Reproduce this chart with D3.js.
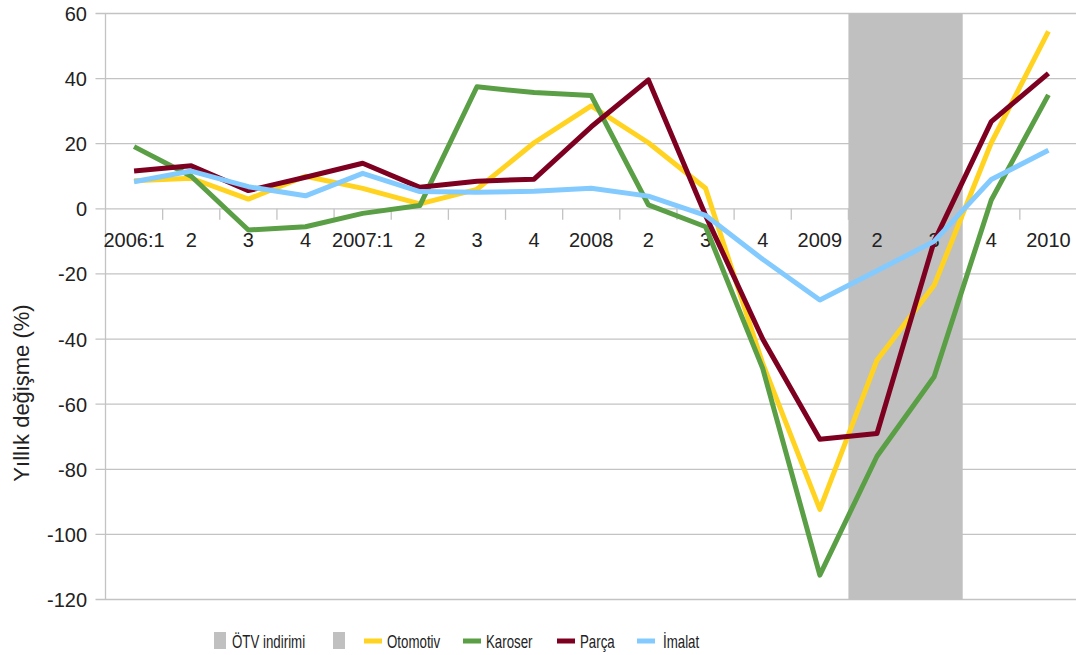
<!DOCTYPE html>
<html lang="tr">
<head>
<meta charset="utf-8">
<title>Yıllık değişme</title>
<script src="https://cdn.jsdelivr.net/npm/d3@7"></script>
<style>
  body { margin: 0; background: #fff; }
  svg text { font-family: "Liberation Sans", Arial, sans-serif; fill: #222; }
  .grid line { stroke: #c3c3c3; stroke-width: 1.3; }
  .series { fill: none; stroke-width: 5; stroke-linejoin: round; }
  .legend text { font-size: 17.5px; }
</style>
</head>
<body>
<svg width="1076" height="655"></svg>
<script>
// data
var categories = ["2006:1", "2", "3", "4", "2007:1", "2", "3", "4", "2008", "2", "3", "4", "2009", "2", "3", "4", "2010"];
var otomotiv = [8.6, 9.4, 3, 10, 6.3, 1.5, 6, 20.3, 31.6, 20.3, 6.3, -47.5, -92.3, -46.5, -23.5, 20.3, 54.5];
var karoser  = [19.1, 10, -6.5, -5.5, -1.4, 1, 37.5, 35.7, 34.8, 1.2, -5.5, -49, -112.5, -76, -51.6, 2.7, 35];
var parca    = [11.6, 13.2, 5.6, 9.7, 14, 6.6, 8.5, 9.1, 25.2, 39.6, -2, -40, -70.8, -69, -10, 26.8, 41.6];
var imalat   = [8.3, 11.6, 6.8, 4, 10.9, 5.3, 5.1, 5.4, 6.3, 3.9, -2, -15.5, -28, -19, -10, 9, 18];
var yTicks = [60, 40, 20, 0, -20, -40, -60, -80, -100, -120];
var shadeFrom = 13, shadeTo = 14; // ÖTV indirimi: 2009:2 - 2009:3

var seriesNames = ["Otomotiv", "Karoser", "Parça", "İmalat"];
var seriesValues = [otomotiv, karoser, parca, imalat];
var seriesColors = ["#ffd320", "#5a9f45", "#7e0021", "#83caff"];
var shadeColor = "#c0c0c0";

var svg = d3.select("svg");
var pLeft = 105.5, pRight = 1077, pTop = 13.5, pBottom = 599.5;

var x = d3.scaleBand().domain(d3.range(categories.length)).range([pLeft, pRight]);
var y = d3.scaleLinear().domain([-120, 60]).range([pBottom, pTop]);
var cx = function(i) { return x(i) + x.bandwidth() / 2; };

// horizontal grid
svg.append("g").attr("class", "grid")
  .selectAll("line").data(yTicks).enter().append("line")
  .attr("x1", pLeft - 10).attr("x2", pRight)
  .attr("y1", function(d) { return y(d); }).attr("y2", function(d) { return y(d); });

// y axis
svg.append("line").attr("x1", pLeft).attr("x2", pLeft).attr("y1", pTop).attr("y2", pBottom)
  .attr("stroke", "#c3c3c3").attr("stroke-width", 1.3);
svg.append("g").selectAll("text").data(yTicks).enter().append("text")
  .attr("x", 87).attr("y", function(d) { return y(d) + 7.5; })
  .attr("text-anchor", "end").style("font-size", "20px")
  .text(function(d) { return d; });

svg.append("text")
  .attr("transform", "translate(28.5,393) rotate(-90)")
  .attr("text-anchor", "middle").style("font-size", "22px")
  .text("Yıllık değişme (%)");

// x axis ticks at band edges
var y0 = y(0);
svg.append("g").selectAll("line").data(d3.range(1, categories.length)).enter().append("line")
  .attr("x1", function(i) { return x(i); }).attr("x2", function(i) { return x(i); })
  .attr("y1", y0).attr("y2", y0 + 11)
  .attr("stroke", "#c3c3c3").attr("stroke-width", 1.3);

// shaded period
svg.append("rect")
  .attr("x", x(shadeFrom)).attr("width", x(shadeTo) + x.bandwidth() - x(shadeFrom))
  .attr("y", pTop).attr("height", pBottom - pTop)
  .attr("fill", shadeColor);

svg.append("g").selectAll("text").data(categories).enter().append("text")
  .attr("x", function(d, i) { return cx(i); }).attr("y", y0 + 38)
  .attr("text-anchor", "middle").style("font-size", "20px")
  .text(function(d) { return d; });

// lines
var line = d3.line().x(function(d, i) { return cx(i); }).y(function(d) { return y(d); });
svg.append("g").selectAll("path").data(seriesValues).enter().append("path")
  .attr("class", "series")
  .attr("stroke", function(d, i) { return seriesColors[i]; })
  .attr("d", line);

// legend (narrow-looking text: squeeze horizontally)
var legend = svg.append("g").attr("class", "legend");
var legendItems = [
  { type: "box", label: "ÖTV indirimi", color: shadeColor, x: 214 },
  { type: "box", label: "", color: shadeColor, x: 333 },
  { type: "line", label: seriesNames[0], color: seriesColors[0], x: 364 },
  { type: "line", label: seriesNames[1], color: seriesColors[1], x: 463 },
  { type: "line", label: seriesNames[2], color: seriesColors[2], x: 557 },
  { type: "line", label: seriesNames[3], color: seriesColors[3], x: 637 }
];
legendItems.forEach(function(it) {
  var tx;
  if (it.type === "box") {
    legend.append("rect").attr("x", it.x).attr("y", 632).attr("width", 12).attr("height", 17).attr("fill", it.color);
    tx = it.x + 18;
  } else {
    legend.append("rect").attr("x", it.x).attr("y", 638.5).attr("width", 18).attr("height", 5).attr("fill", it.color);
    tx = it.x + (it.label === "İmalat" ? 26 : 23);
  }
  legend.append("text")
    .attr("transform", "translate(" + tx + ",648) scale(0.76,1)")
    .text(it.label);
});
</script>
</body>
</html>
